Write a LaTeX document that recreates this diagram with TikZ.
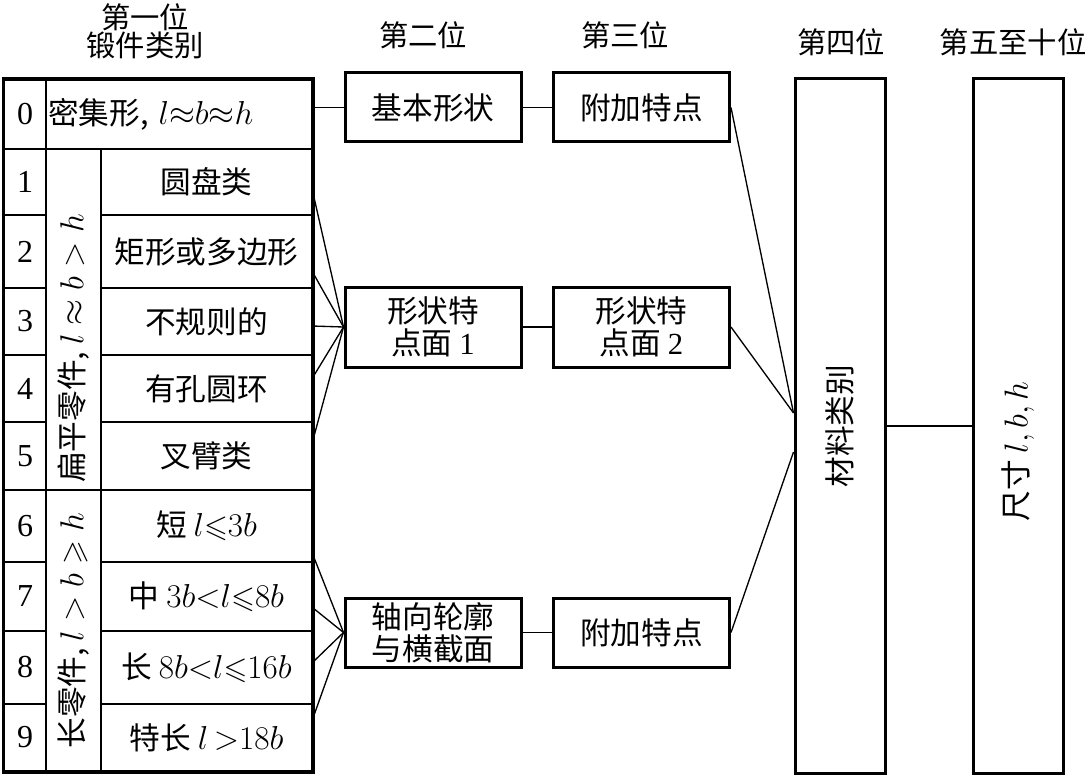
\documentclass[tikz,border=0pt]{standalone}
\usepackage{amssymb}
\usepackage{graphicx}
\usepackage{fontspec}
\setmainfont{Liberation Serif}
\newfontfamily\cjk{Noto Sans CJK SC}

\begin{document}
\begin{tikzpicture}[x=0.75pt, y=-0.75pt,
    every node/.style={font=\cjk\fontsize{23}{24}\selectfont, inner sep=0pt},
    cell/.style={draw, line width=1.5pt},
    numcell/.style={cell, minimum width=31.5pt, font=\rmfamily\fontsize{24}{24}\selectfont},
    itemcell/.style={cell, minimum width=158.25pt},
    groupcell/.style={cell, minimum width=41.25pt},
    codebox/.style={draw, line width=2.25pt, minimum width=132pt, align=center},
    tallbox/.style={draw, line width=2.25pt, minimum width=67.5pt, minimum height=520.5pt},
    link/.style={line width=1pt},
    header/.style={font=\cjk\fontsize{22}{21}\selectfont, align=center}]
    \useasboundingbox (0, 0) rectangle (1091, 777);

    \node[header] (h1) at (145, 31) {第一位\\锻件类别};
    \node[header] (h2) at (423, 35) {第二位};
    \node[header] (h3) at (625, 35) {第三位};
    \node[header] (h4) at (841, 42) {第四位};
    \node[header] (h5) at (1013, 42) {第五至十位};

    \node[numcell, minimum height=51.75pt] (n0) at (25, 114.5) {0};
    \node[cell, minimum width=199.5pt, minimum height=51.75pt, text width=196.5pt,
        inner xsep=1.5pt, align=left] (r0) at (179, 114.5) {密集形, $l{\approx}b{\approx}h$};

    \node[numcell, minimum height=49.5pt] (n1) at (25, 182) {1};
    \node[numcell, minimum height=54.75pt] (n2) at (25, 251.5) {2};
    \node[numcell, minimum height=50.25pt] (n3) at (25, 321.5) {3};
    \node[numcell, minimum height=50.25pt] (n4) at (25, 388.5) {4};
    \node[numcell, minimum height=51pt] (n5) at (25, 456) {5};
    \node[numcell, minimum height=54pt] (n6) at (25, 526) {6};
    \node[numcell, minimum height=51.75pt] (n7) at (25, 596.5) {7};
    \node[numcell, minimum height=54.75pt] (n8) at (25, 667.5) {8};
    \node[numcell, minimum height=50.25pt] (n9) at (25, 737.5) {9};

    \node[groupcell, minimum height=255.75pt] (g1) at (73.5, 319.5)
        {\rotatebox{90}{\makebox[245pt][l]{扁平零件, $l\approx b>h$}}};
    \node[groupcell, minimum height=210.75pt] (g2) at (73.5, 630.5)
        {\rotatebox{90}{长零件, $l>b\geqslant h$}};

    \node[itemcell, minimum height=49.5pt] (c1) at (206.5, 182) {圆盘类};
    \node[itemcell, minimum height=54.75pt] (c2) at (206.5, 251.5) {矩形或多边形};
    \node[itemcell, minimum height=50.25pt] (c3) at (206.5, 321.5) {不规则的};
    \node[itemcell, minimum height=50.25pt] (c4) at (206.5, 388.5) {有孔圆环};
    \node[itemcell, minimum height=51pt] (c5) at (206.5, 456) {叉臂类};
    \node[itemcell, minimum height=54pt] (c6) at (206.5, 526) {短 $l{\leqslant}3b$};
    \node[itemcell, minimum height=51.75pt] (c7) at (206.5, 596.5) {中 $3b{<}l{\leqslant}8b$};
    \node[itemcell, minimum height=54.75pt] (c8) at (206.5, 667.5) {长 $8b{<}l{\leqslant}16b$};
    \node[itemcell, minimum height=50.25pt] (c9) at (206.5, 737.5) {特长 $l\,{>}18b$};

    \draw[line width=2.25pt] (n0.north west) rectangle (c9.south east);

    \node[codebox, minimum height=51.75pt] (b2a) at (433, 107.5) {基本形状};
    \node[codebox, minimum height=51.75pt] (b3a) at (641.5, 107.5) {附加特点};
    \node[codebox, minimum height=60pt] (b2b) at (433, 327) {形状特\\点面 {\rmfamily 1}};
    \node[codebox, minimum height=60pt] (b3b) at (641.5, 327) {形状特\\点面 {\rmfamily 2}};
    \node[codebox, minimum height=51.75pt] (b2c) at (433, 632.5) {轴向轮廓\\与横截面};
    \node[codebox, minimum height=51.75pt] (b3c) at (641.5, 632.5) {附加特点};

    \node[tallbox] (mat) at (840, 426) {\rotatebox{90}{材料类别}};
    \node[tallbox] (dim) at (1018, 426) {\rotatebox{90}{尺寸 $l{,}\,b{,}\,h$\hspace{38pt}}};

    \draw[link] (b2a.west -| r0.east) -- (b2a.west);
    \draw[link] (b2a) -- (b3a);
    \draw[link] (b2b) -- (b3b);
    \draw[link] (b2c) -- (b3c);
    \draw[link] (mat) -- (dim);

    \draw[link] ([yshift=-8.25pt]c1.east) -- (b2b.west);
    \draw[link] ([yshift=-16pt]c2.east) -- (b2b.west);
    \draw[link] ([yshift=-3.4pt]c3.east) -- (b2b.west);
    \draw[link] ([yshift=8.6pt]c4.east) -- (b2b.west);
    \draw[link] ([yshift=12pt]c5.east) -- (b2b.west);

    \draw[link] ([yshift=-21.75pt]c6.east) -- (b2c.west);
    \draw[link] ([yshift=-8.6pt]c7.east) -- (b2c.west);
    \draw[link] ([yshift=4.1pt]c8.east) -- (b2c.west);
    \draw[link] ([yshift=14.6pt]c9.east) -- (b2c.west);

    \draw[link] (b3a.east) -- ([yshift=9.75pt]mat.west);
    \draw[link] (b3b.east) -- ([yshift=9.75pt]mat.west);
    \draw[link] (b3c.east) -- ([yshift=-19.5pt]mat.west);

\end{tikzpicture}
\end{document}
